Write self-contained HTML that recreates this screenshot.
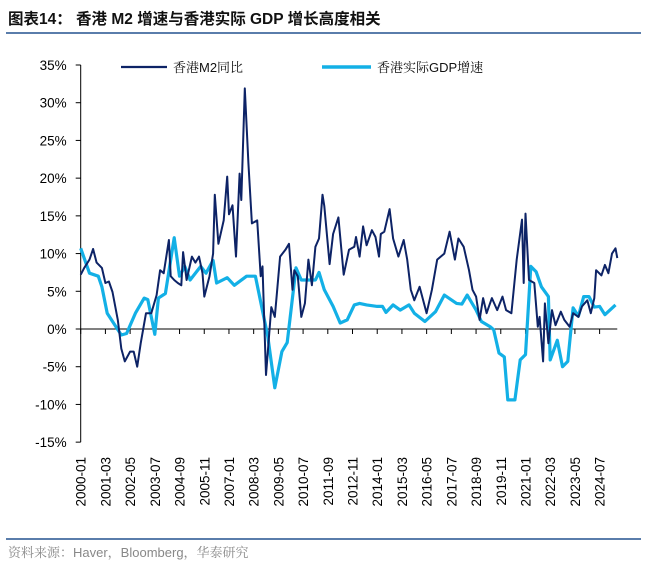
<!DOCTYPE html>
<html><head><meta charset="utf-8"><style>
html,body{margin:0;padding:0;background:#fff;}
svg{display:block;font-family:"Liberation Sans","Noto Sans CJK SC",sans-serif;}
.serif{font-family:"Liberation Sans","Noto Serif CJK SC",serif;}
</style></head><body>
<svg id="chart" width="648" height="575" viewBox="0 0 648 575">
<text x="8" y="24" font-size="15.5" font-weight="bold" fill="#111">图表14：  香港 M2 增速与香港实际 GDP 增长高度相关</text>
<line x1="6" y1="33" x2="641" y2="33" stroke="#5a7dab" stroke-width="2"/>
<line x1="6" y1="539" x2="641" y2="539" stroke="#5a7dab" stroke-width="2"/>
<text x="8" y="557" font-size="13" fill="#888" class="serif">资料来源：Haver，Bloomberg，华泰研究</text>
<g id="axes"></g>
<g id="series"></g>
<g>
<line x1="121" y1="67" x2="167" y2="67" stroke="#0d2366" stroke-width="2.2"/>
<text x="173" y="72" font-size="13" fill="#111" class="serif">香港M2同比</text>
<line x1="322" y1="67" x2="371" y2="67" stroke="#13b0e6" stroke-width="3.5"/>
<text x="377" y="72" font-size="13" fill="#111" class="serif">香港实际GDP增速</text>
</g>
</svg>
<script>
const yTicks=[35,30,25,20,15,10,5,0,-5,-10,-15];
const xLabels=["2000-01","2001-03","2002-05","2003-07","2004-09","2005-11","2007-01","2008-03","2009-05","2010-07","2011-09","2012-11","2014-01","2015-03","2016-05","2017-07","2018-09","2019-11","2021-01","2022-03","2023-05","2024-07"];
const m2Month=[0,2,5,7,9,12,14,16,18,21,23,25,28,30,32,34,37,40,43,45,47,50,51,53,55,57,58,60,63,65,67,69,70,73,75,76,78,81,83,84,86,88,90,91,93,95,97,100,102,103,105,108,110,111,113,116,118,120,121,123,125,127,129,131,133,135,137,138,141,143,146,149,152,155,156,158,160,162,165,167,169,170,172,175,177,180,183,185,187,189,192,196,199,202,206,209,212,214,217,220,222,224,226,228,230,233,236,239,241,244,247,250,251,252,254,257,259,260,262,263,265,267,269,272,274,277,279,282,284,287,289,291,292,295,297,299,301,303,304];
const m2Value=[7.2,8.1,9.2,10.6,8.8,8.1,6.1,6.3,4.9,1.2,-2.6,-4.3,-3,-3,-5,-1.9,2.1,2.1,4.5,7.8,7.4,11.8,7,6.5,6.1,5.8,10.2,6.5,9.6,8.8,9.6,7.4,4.3,7,10,17.8,11.3,14.4,20.2,15.2,16.4,9.6,20.6,17.1,31.9,22,14,14.4,7,8.3,-6.1,2.9,1.6,4.3,9.6,10.5,11.3,5.2,7.8,7,1.6,3.4,9.2,5.8,10.9,12,17.8,16.3,8.6,12.6,14.8,7.2,10.5,10.9,12.2,9.6,13.6,11.1,13.1,12.2,9.6,12.6,12.9,15.9,12,9.6,11.8,9.2,5.2,3.8,5.6,2.1,5.2,9.2,10,12.9,9.2,12,10.9,7.8,5.2,4.3,1.2,4.1,2.1,4.1,2.5,4.3,2.5,2.1,9.2,14.5,6.1,15.3,6.5,6.1,0.3,1.6,-4.3,3.4,-1.9,2.5,0.5,2.3,1.2,0.3,2.1,1.6,3,3.8,2.1,4.1,7.8,7.1,8.5,7.4,10,10.7,9.4];
const gdpMonth=[0,5,10,12,15,23,26,31,36,38,42,44,48,53,56,59,62,68,71,75,77,83,87,94,99,106,110,114,117,122,125,133,135,138,143,147,151,155,158,162,168,171,173,177,181,186,189,195,201,206,213,216,219,224,227,232,234,237,240,242,246,249,252,255,258,261,265,266,270,273,276,279,282,285,288,291,294,297,303];
const gdpValue=[10.7,7.4,7,5.6,2.1,-0.8,-0.6,2.1,4.1,3.9,-0.7,4.1,4.7,12.1,7,8.3,6.5,8.3,7.4,9.1,6.1,6.8,5.8,7,7,-1,-7.8,-3,-1.8,8.1,6.5,6.5,7.5,5.2,3,0.8,1.2,3.2,3.4,3.2,3,3,2.2,3.2,2.5,3.2,2.1,1,2.3,4.5,3.4,3.3,4.5,2.5,1,0.3,-0.1,-3.2,-3.7,-9.4,-9.4,-4.1,-3.4,8.3,7.6,5.6,4.3,-4.1,-1.5,-5,-4.3,2.8,1.7,4.3,4.3,2.9,3,1.9,3.2];

const NS="http://www.w3.org/2000/svg";
const X0=80.7, PXM=1.765, Y0=329, PXV=7.543;
function xs(m){return X0+m*PXM;}
function ys(v){return Y0-v*PXV;}
function mk(tag,attrs,parent){const e=document.createElementNS(NS,tag);for(const k in attrs)e.setAttribute(k,attrs[k]);parent.appendChild(e);return e;}
const axes=document.getElementById('axes'), series=document.getElementById('series');

const ya=mk('line',{x1:X0,y1:ys(35),x2:X0,y2:ys(-15),stroke:'#000','stroke-width':1},axes);


yTicks.forEach(v=>{
  const t=mk('line',{x1:X0-5,y1:ys(v),x2:X0,y2:ys(v),stroke:'#000','stroke-width':1},axes);
  
  
  const l=mk('text',{x:X0-14,y:ys(v)+5,'text-anchor':'end','font-size':13.5,fill:'#000'},axes);
  l.textContent=v+'%';
  
  
});
const xa=mk('line',{x1:X0,y1:Y0,x2:xs(304),y2:Y0,stroke:'#000','stroke-width':1},axes);


xLabels.forEach((s,i)=>{
  const m=(parseInt(s.slice(0,4))-2000)*12+parseInt(s.slice(5))-1;
  const x=xs(m);
  const t=mk('line',{x1:x,y1:Y0,x2:x,y2:Y0+5,stroke:'#000','stroke-width':1},axes);
  
  
  const l=mk('text',{x:0,y:0,'text-anchor':'end','font-size':13.5,fill:'#000',transform:`translate(${x+5},457) rotate(-90)`},axes);
  l.textContent=s;
  
  
});
function path(ms,vs){return ms.map((m,i)=>(i?'L':'M')+xs(m).toFixed(1)+','+ys(vs[i]).toFixed(1)).join('');}
const g=mk('path',{d:path(gdpMonth,gdpValue),fill:'none',stroke:'#13b0e6','stroke-width':3.2,'stroke-linejoin':'round'},series);


const m2=mk('path',{d:path(m2Month,m2Value),fill:'none',stroke:'#0d2366','stroke-width':2,'stroke-linejoin':'round'},series);


</script>
</body></html>
